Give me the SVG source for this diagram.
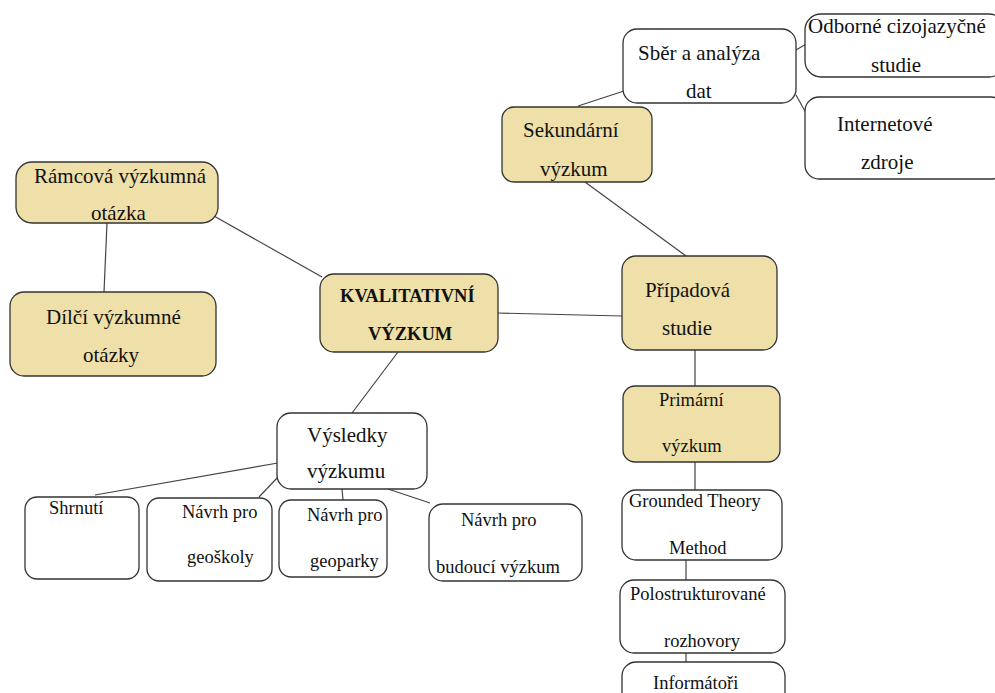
<svg xmlns="http://www.w3.org/2000/svg" width="995" height="693" viewBox="0 0 995 693">
<style>
.b{fill:#fff;stroke:#333;stroke-width:1.3}
.f{fill:#EEE0A8;stroke:#333;stroke-width:1.3}
text{font-family:"Liberation Serif","Times New Roman",serif;font-size:21px;fill:#111}
.s{font-size:18.5px}
.k{font-weight:bold;font-size:18.5px}
#c line{stroke:#444;stroke-width:1.2}
</style>
<rect width="995" height="693" fill="#fff"/>
<g id="c">
<line x1="578" y1="106" x2="624" y2="91"/>
<line x1="796" y1="50" x2="808" y2="43"/>
<line x1="796" y1="95" x2="806" y2="113"/>
<line x1="585" y1="182" x2="686" y2="256"/>
<line x1="214" y1="216" x2="322" y2="277"/>
<line x1="107" y1="223" x2="104" y2="292"/>
<line x1="498" y1="313" x2="622" y2="316"/>
<line x1="398" y1="352" x2="352" y2="413"/>
<line x1="695" y1="350" x2="695" y2="386"/>
<line x1="695" y1="462" x2="695" y2="490"/>
<line x1="686" y1="560" x2="686" y2="580"/>
<line x1="686" y1="653" x2="686" y2="662"/>
<line x1="278" y1="463" x2="95" y2="495"/>
<line x1="279" y1="476" x2="259" y2="497"/>
<line x1="342" y1="489" x2="343" y2="500"/>
<line x1="388" y1="489" x2="430" y2="503"/>
</g>
<g id="sber"><rect class="b" x="623" y="29" width="173" height="74" rx="14"/><text x="638" y="60">Sběr a analýza</text><text x="686" y="98">dat</text></g>
<g id="odborne"><rect class="b" x="805" y="14" width="200" height="63" rx="16"/><text x="808" y="33">Odborné cizojazyčné</text><text x="871" y="72">studie</text></g>
<g id="internet"><rect class="b" x="805" y="97" width="200" height="82" rx="14"/><text x="837" y="131">Internetové</text><text x="861" y="169">zdroje</text></g>
<g id="sekundarni"><rect class="f" x="502" y="107" width="150" height="75" rx="12"/><text x="523" y="137">Sekundární</text><text x="540" y="176">výzkum</text></g>
<g id="ramcova"><rect class="f" x="16" y="162" width="202" height="61" rx="16"/><text x="34" y="183">Rámcová výzkumná</text><text x="91" y="220">otázka</text></g>
<g id="dilci"><rect class="f" x="10" y="292" width="206" height="84" rx="14"/><text x="46" y="324">Dílčí výzkumné</text><text x="83" y="362">otázky</text></g>
<g id="kval"><rect class="f" x="320" y="274" width="178" height="78" rx="14"/><text class="k" x="340" y="302">KVALITATIVNÍ</text><text class="k" x="368" y="340">VÝZKUM</text></g>
<g id="pripadova"><rect class="f" x="622" y="256" width="155" height="94" rx="14"/><text x="645" y="297">Případová</text><text x="662" y="335">studie</text></g>
<g id="primarni"><rect class="f" x="623" y="386" width="157" height="76" rx="12"/><text class="s" x="659" y="406">Primární</text><text class="s" x="662" y="452">výzkum</text></g>
<g id="vysledky"><rect class="b" x="277" y="413" width="150" height="76" rx="14"/><text x="307" y="442">Výsledky</text><text x="307" y="478">výzkumu</text></g>
<g id="shrnuti"><rect class="b" x="25" y="497" width="114" height="82" rx="12"/><text class="s" x="49" y="514">Shrnutí</text></g>
<g id="geoskoly"><rect class="b" x="147" y="498" width="125" height="83" rx="12"/><text class="s" x="182" y="518">Návrh pro</text><text class="s" x="187" y="563">geoškoly</text></g>
<g id="geoparky"><rect class="b" x="279" y="500" width="108" height="77" rx="12"/><text class="s" x="307" y="521">Návrh pro</text><text class="s" x="310" y="567">geoparky</text></g>
<g id="budouci"><rect class="b" x="429" y="504" width="153" height="77" rx="14"/><text class="s" x="461" y="526">Návrh pro</text><text class="s" x="436" y="573">budoucí výzkum</text></g>
<g id="grounded"><rect class="b" x="622" y="490" width="160" height="70" rx="14"/><text class="s" x="629" y="507">Grounded Theory</text><text class="s" x="669" y="554">Method</text></g>
<g id="polo"><rect class="b" x="620" y="580" width="165" height="73" rx="14"/><text class="s" x="630" y="600">Polostrukturované</text><text class="s" x="664" y="647">rozhovory</text></g>
<g id="info"><rect class="b" x="622" y="662" width="163" height="60" rx="14"/><text class="s" x="653" y="689">Informátoři</text></g>
</svg>
